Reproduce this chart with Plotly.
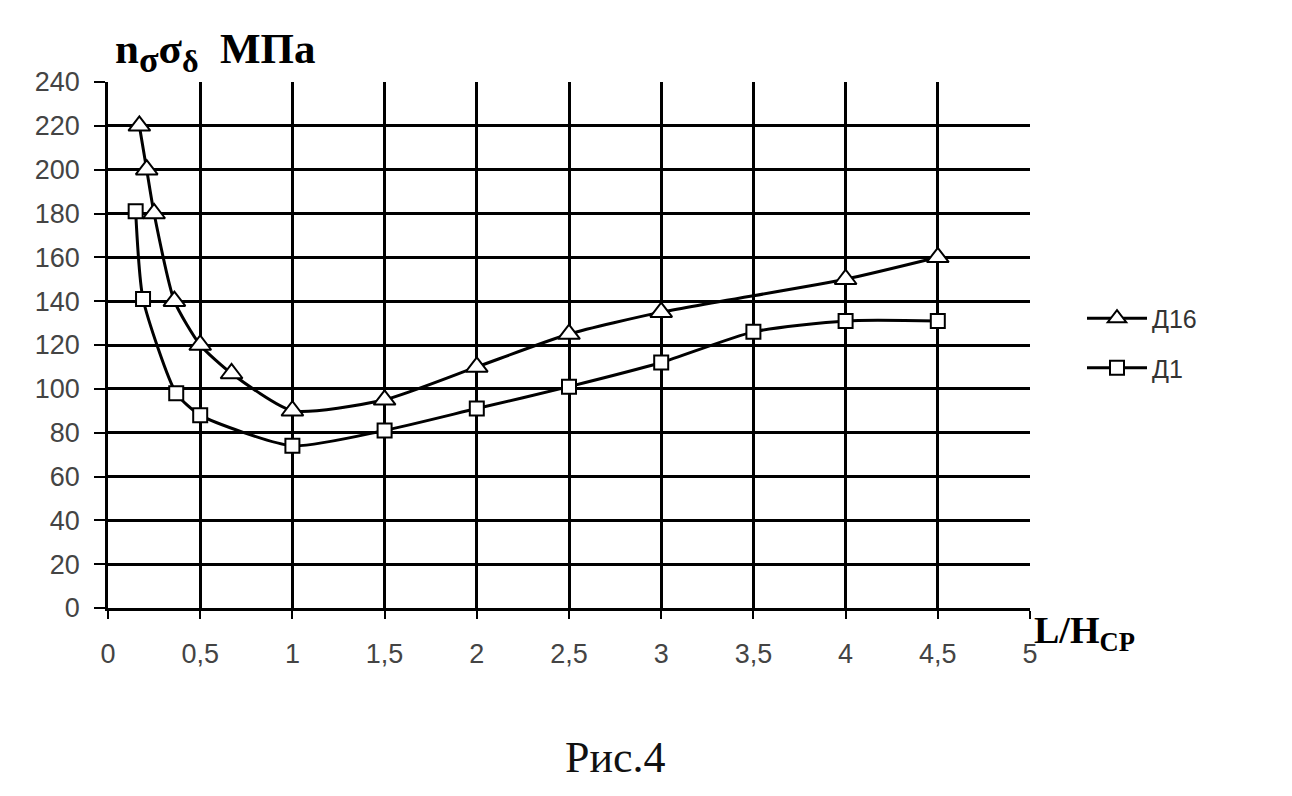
import plotly.graph_objects as go

x_d16 = [0.17, 0.21, 0.25, 0.36, 0.5, 0.67, 1.0, 1.5, 2.0, 2.5, 3.0, 4.0, 4.5]
y_d16 = [220, 200, 180, 140, 120, 107, 90, 95, 110, 125, 135, 150, 160]
x_d1 = [0.15, 0.19, 0.37, 0.5, 1.0, 1.5, 2.0, 2.5, 3.0, 3.5, 4.0, 4.5]
y_d1 = [181, 141, 98, 88, 74, 81, 91, 101, 112, 126, 131, 131]
x_ticks = [0, 0.5, 1, 1.5, 2, 2.5, 3, 3.5, 4, 4.5, 5]
x_ticktext = ["0", "0,5", "1", "1,5", "2", "2,5", "3", "3,5", "4", "4,5", "5"]
y_ticks = list(range(0, 241, 20))

# target plot box in page pixels (page has 8px body margin)
L, T, R, B = 108, 82, 1030, 608
OFF = 8
ml, mt = L - OFF, T - OFF
mr = 1292 - R + OFF
mb = 796 - B + OFF
pw, ph = R - L, B - T


def px(xp):
    return (xp - L) / pw


def py(yp):
    return (B - yp) / ph


fig = go.Figure()
fig.add_trace(go.Scatter(
    x=x_d16, y=y_d16, name="Д16", mode="lines+markers", legendgroup="a",
    line=dict(color="black", width=3, shape="spline", smoothing=0.6),
    marker=dict(symbol="triangle-up", size=19, color="white",
                line=dict(color="black", width=2)),
))
fig.add_trace(go.Scatter(
    x=x_d1, y=y_d1, name="Д1", mode="lines+markers", legendgroup="b",
    line=dict(color="black", width=3, shape="spline", smoothing=0.6),
    marker=dict(symbol="square", size=14, color="white",
                line=dict(color="black", width=2)),
))

fig.update_layout(
    width=1292, height=796,
    margin=dict(l=ml, r=mr, t=mt, b=mb),
    paper_bgcolor="white", plot_bgcolor="white",
    separators=", ",
    showlegend=True,
    legend=dict(x=px(1082), y=py(343), xanchor="left", yanchor="middle",
                font=dict(family="Liberation Sans, Arial", size=25, color="#333"),
                bgcolor="rgba(0,0,0,0)", tracegroupgap=14, traceorder="grouped",
                itemwidth=60),
    font=dict(family="Liberation Sans, Arial", size=25, color="#444"),
)
fig.update_xaxes(
    range=[0, 5], tickvals=x_ticks, ticktext=x_ticktext,
    showgrid=True, gridcolor="black", gridwidth=2.5,
    showline=True, linecolor="black", linewidth=2.5,
    ticks="outside", ticklen=8, tickcolor="black", tickwidth=2,
    ticklabelstandoff=12,
    zeroline=False, tickfont=dict(size=27, color="#444"),
)
fig.update_yaxes(
    range=[0, 240], tickvals=y_ticks,
    showgrid=True, gridcolor="black", gridwidth=2.5,
    showline=True, linecolor="black", linewidth=2.5,
    ticks="outside", ticklen=11, tickcolor="black", tickwidth=2,
    ticklabelstandoff=9,
    zeroline=False, tickfont=dict(size=27, color="#444"),
)

fig.add_annotation(
    xref="paper", yref="paper", x=px(113), y=py(53), showarrow=False,
    text=("<b>n<sub><span style='font-size:36px'>σ</span></sub>σ"
          "<sub><span style='font-size:32px'>δ</span></sub>  МПа</b>"),
    font=dict(family="Liberation Serif, Times New Roman", size=43, color="black"),
    xanchor="left", yanchor="middle",
)
fig.add_annotation(
    xref="paper", yref="paper", x=px(1032), y=py(633), showarrow=False,
    text="<b>L/H<sub>CP</sub></b>",
    font=dict(family="Liberation Serif, Times New Roman", size=38, color="black"),
    xanchor="left", yanchor="middle",
)
fig.add_annotation(
    xref="paper", yref="paper", x=px(615), y=py(757), showarrow=False,
    text="Рис.4",
    font=dict(family="Liberation Serif, Times New Roman", size=44, color="#111"),
    xanchor="center", yanchor="middle",
)

fig.write_html("out.html")
